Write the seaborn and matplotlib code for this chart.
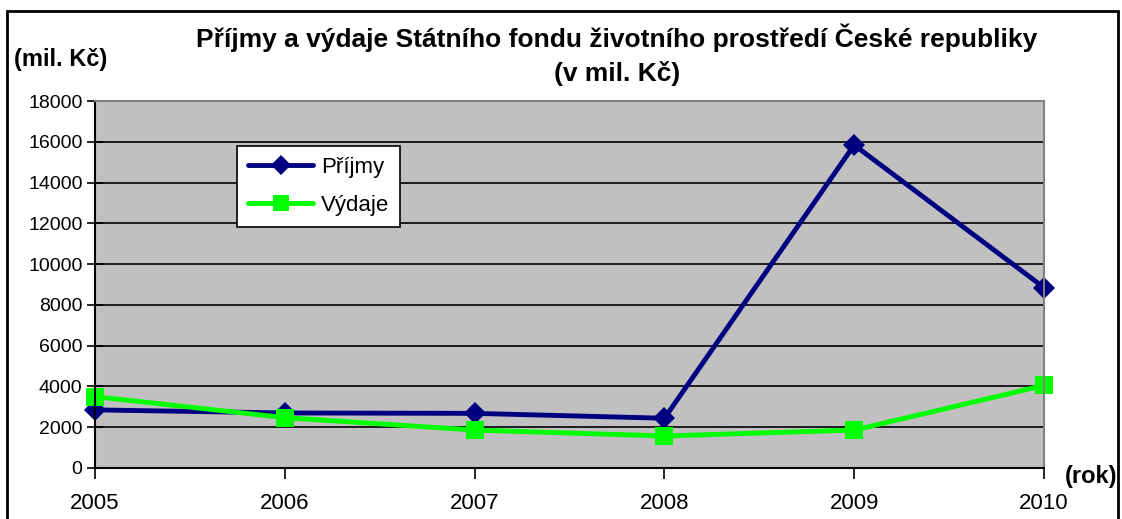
import matplotlib
matplotlib.use("Agg")
import matplotlib.pyplot as plt
import seaborn as sns
import pandas as pd
from matplotlib.patches import Rectangle
from matplotlib.lines import Line2D

years = [2005, 2006, 2007, 2008, 2009, 2010]
prijmy = [2850, 2700, 2680, 2440, 15840, 8850]
vydaje = [3500, 2470, 1860, 1570, 1860, 4050]
yticks = list(range(0, 18001, 2000))

sns.set_theme(style="white")
plt.rcParams['font.family'] = ['Liberation Sans', 'DejaVu Sans']
plt.rcParams['text.color'] = 'black'
plt.rcParams['xtick.color'] = 'black'
plt.rcParams['ytick.color'] = 'black'
plt.rcParams['axes.labelcolor'] = 'black'

df = pd.DataFrame({
    "rok": years * 2,
    "hodnota": prijmy + vydaje,
    "serie": ["Příjmy"] * len(years) + ["Výdaje"] * len(years),
})

fig = plt.figure(figsize=(11.22, 5.19), dpi=100)
ax = fig.add_axes([95/1122, 51/519, 949/1122, 367/519])
ax.set_facecolor("#C0C0C0")

sns.lineplot(data=df, x="rok", y="hodnota", hue="serie", style="serie",
             palette={"Příjmy": "#000080", "Výdaje": "#00FF00"},
             markers={"Příjmy": "D", "Výdaje": "s"}, dashes=False,
             markersize=11, linewidth=3.5, markeredgewidth=0, ax=ax,
             legend=False)
lines = ax.get_lines()
for ln in lines:
    ln.set_clip_on(False)
if len(lines) >= 2:
    lines[1].set_markersize(13)

ax.set_xlim(2005, 2010)
ax.set_ylim(0, 18000)
ax.set_yticks(yticks)
ax.set_xticks(years)
ax.set_yticklabels([str(v) for v in yticks], fontsize=14, color="black")
ax.set_xticklabels([str(v) for v in years], fontsize=16, color="black")
ax.set_xlabel("")
ax.set_ylabel("")
ax.yaxis.grid(True, color="black", linewidth=1.2)
ax.xaxis.grid(False)
ax.set_axisbelow(True)
ax.tick_params(axis="y", direction="inout", length=12, width=1.2, color="black", pad=3, left=True)
ax.tick_params(axis="x", direction="out", length=8, width=1.2, color="black", pad=10, bottom=True)
for s in ["left", "bottom"]:
    ax.spines[s].set_color("black")
    ax.spines[s].set_linewidth(1.5)
for s in ["top", "right"]:
    ax.spines[s].set_color("#808080")
    ax.spines[s].set_linewidth(1.5)

handles = [
    Line2D([], [], color="#000080", marker="D", markersize=10, linewidth=3.5, markeredgewidth=0),
    Line2D([], [], color="#00FF00", marker="s", markersize=11, linewidth=3.5, markeredgewidth=0),
]
leg = ax.legend(handles, ["Příjmy", "Výdaje"], loc="upper left",
                bbox_to_anchor=(0.150, 0.878), fontsize=16, frameon=True,
                fancybox=False, edgecolor="black", facecolor="white",
                framealpha=1, handlelength=2.9, borderpad=0.5,
                labelspacing=0.75, handletextpad=0.35, borderaxespad=0)
leg.get_frame().set_linewidth(1.2)
for t in leg.get_texts():
    t.set_color("black")

fig.text(617/1122, 1 - 38/519, "Příjmy a výdaje Státního fondu životního prostředí České republiky",
         ha="center", va="center", fontsize=19, fontweight="bold", color="black")
fig.text(617/1122, 1 - 73/519, "(v mil. Kč)", ha="center", va="center",
         fontsize=19, fontweight="bold", color="black")
fig.text(14/1122, 1 - 60/519, "(mil. Kč)", ha="left", va="center",
         fontsize=17, fontweight="bold", color="black")
fig.text(1065/1122, 1 - 477/519, "(rok)", ha="left", va="center",
         fontsize=17, fontweight="bold", color="black")

fig.patches.append(Rectangle((7/1122, -0.05), (1118-7)/1122, 1 - 11/519 + 0.05,
                             transform=fig.transFigure, fill=False,
                             edgecolor="black", linewidth=2, zorder=10))

fig.savefig("out.png", dpi=100)
